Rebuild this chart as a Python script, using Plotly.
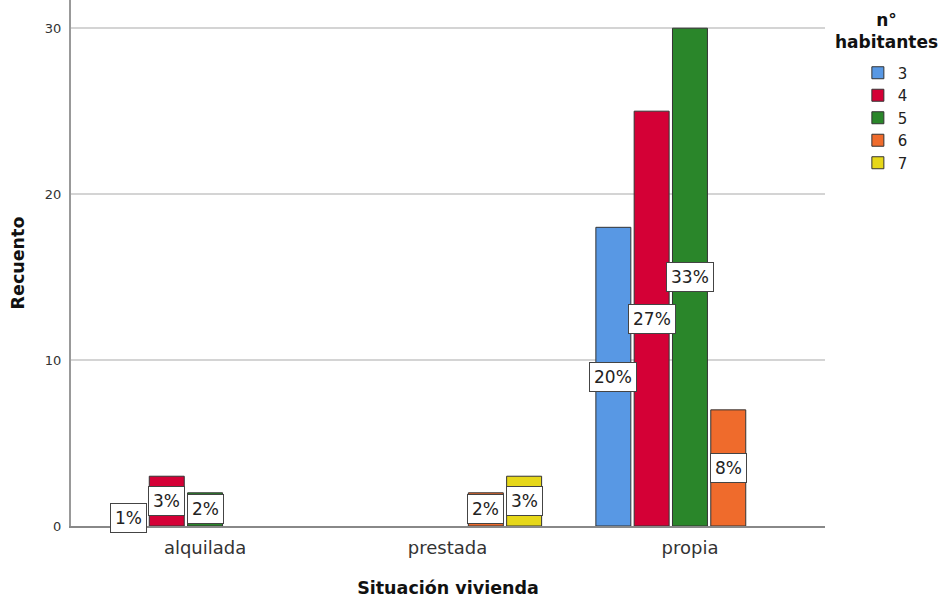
import plotly.graph_objects as go

categories = ["alquilada", "prestada", "propia"]
series_names = ["3", "4", "5", "6", "7"]
values_3 = [1, None, 18]
values_4 = [3, None, 25]
values_5 = [2, None, 30]
values_6 = [None, 2, 7]
values_7 = [None, 3, None]
pct_3 = ["1%", None, "20%"]
pct_4 = ["3%", None, "27%"]
pct_5 = ["2%", None, "33%"]
pct_6 = [None, "2%", "8%"]
pct_7 = [None, "3%", None]
y_ticks = [0, 10, 20, 30]
legend_title = "n°<br>habitantes"

FONT = "DejaVu Sans, Liberation Sans, Arial"
colors = ["#5898E4", "#D40036", "#2A862A", "#EF6B2C", "#E6D719"]
all_values = [values_3, values_4, values_5, values_6, values_7]
all_pcts = [pct_3, pct_4, pct_5, pct_6, pct_7]

bargap = 0.21
bargroupgap = 0.087
n = len(series_names)
slot = (1 - bargap) / n

xpos = list(range(len(categories)))
fig = go.Figure()
annotations = []
for k, (name, vals, pcts, col) in enumerate(zip(series_names, all_values, all_pcts, colors)):
    fig.add_trace(go.Bar(
        x=xpos, y=vals, name=name,
        marker=dict(color=col, line=dict(color="#333333", width=1)),
        hoverinfo="skip",
    ))
    for i, (v, p) in enumerate(zip(vals, pcts)):
        if v is None or p is None:
            continue
        annotations.append(dict(
            x=i + (k - (n - 1) / 2) * slot, y=v / 2, xref="x", yref="y",
            text=p, showarrow=False,
            font=dict(family=FONT, size=17, color="#222222"),
            bgcolor="white", bordercolor="#444444", borderwidth=1, borderpad=4,
        ))

# legend title drawn as a centered text block above the legend entries
annotations.append(dict(
    x=1.081, y=0.985, xref="paper", yref="paper", xanchor="center", yanchor="top",
    text="<b>" + legend_title + "</b>", showarrow=False, align="center",
    font=dict(family=FONT, size=17, color="#111111"),
))

fig.update_layout(
    width=941, height=601,
    paper_bgcolor="white", plot_bgcolor="white",
    margin=dict(l=71, r=116, t=0, b=75, autoexpand=False),
    barmode="group", bargap=bargap, bargroupgap=bargroupgap,
    font=dict(family=FONT, color="#222222"),
    annotations=annotations,
    showlegend=True,
    hovermode=False,
    legend=dict(
        x=1.0436, xanchor="left", y=0.8926, yanchor="top",
        font=dict(family=FONT, size=15, color="#222222"),
        itemwidth=30, traceorder="normal",
        bgcolor="rgba(0,0,0,0)",
    ),
    xaxis=dict(
        tickvals=xpos, ticktext=categories, range=[-0.553, 2.557],
        showgrid=False, showline=True, linecolor="#888888", linewidth=1.5,
        ticks="", tickfont=dict(family=FONT, size=18, color="#333333"),
        ticklabelstandoff=5,
        title=dict(text="<b>Situación vivienda</b>", font=dict(family=FONT, size=17.5, color="#111111"), standoff=24),
        zeroline=False,
    ),
    yaxis=dict(
        range=[0, 31.7], tickvals=y_ticks,
        showgrid=True, gridcolor="#D4D4D4", gridwidth=1.5,
        showline=True, linecolor="#999999", linewidth=2,
        ticks="", tickfont=dict(family=FONT, size=13, color="#333333"),
        ticklabelstandoff=5,
        title=dict(text="<b>Recuento</b>", font=dict(family=FONT, size=17.5, color="#111111"), standoff=16),
        zeroline=False,
    ),
)

fig.write_html("out.html", config={"displayModeBar": False},
               post_script="document.body.style.margin='0px';")
